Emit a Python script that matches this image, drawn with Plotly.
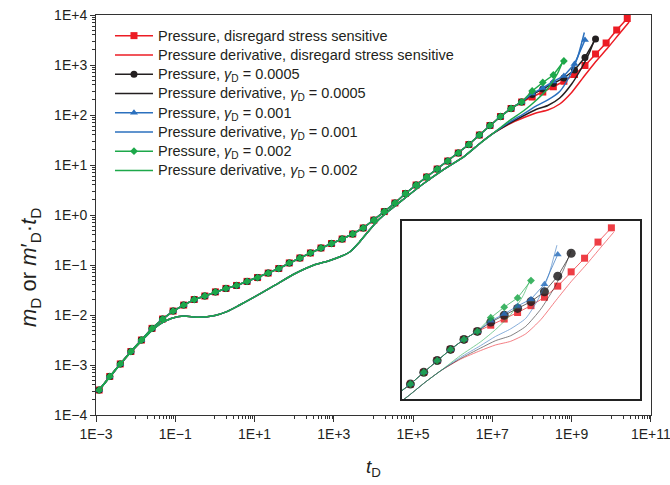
import plotly.graph_objects as go

# ---------------- data ----------------
# dimensionless time at the pressure markers
t_p = [1.20e-3, 2.22e-3, 4.10e-3, 7.58e-3, 1.40e-2, 2.59e-2, 4.78e-2, 8.82e-2,
       0.163, 0.301, 0.556, 1.03, 1.90, 3.50, 6.47, 11.9, 22.1, 40.8, 75.3,
       139, 257, 474, 876, 1.62e3, 2.99e3, 5.52e3, 1.02e4, 1.88e4, 3.48e4,
       6.42e4, 1.19e5, 2.19e5, 4.04e5, 7.47e5, 1.38e6, 2.55e6, 4.70e6, 8.69e6,
       1.60e7, 2.96e7, 5.47e7, 1.01e8, 1.87e8, 3.45e8, 6.37e8, 1.18e9, 2.17e9,
       4.01e9, 7.41e9, 1.37e10, 2.53e10]

# pressure common to every case (first 41 markers)
p_common = [3.16e-4, 5.9e-4, 1.05e-3, 1.86e-3, 3.16e-3, 5.4e-3, 8.3e-3, 1.2e-2,
            1.58e-2, 2.04e-2, 2.4e-2, 2.9e-2, 3.4e-2, 3.9e-2, 4.7e-2, 5.6e-2,
            6.9e-2, 8.5e-2, 0.11, 0.138, 0.174, 0.219, 0.269, 0.331, 0.417,
            0.55, 0.79, 1.17, 1.74, 2.69, 3.98, 5.75, 8.3, 12.0, 17.4, 25.7,
            39.8, 61.7, 93.3, 135, 182]
p_tail_red = [229, 288, 367, 473, 646, 977, 1660, 2754, 5012, 8511]
p_tail_black = [257, 331, 427, 550, 794, 1413, 3311]
p_tail_blue = [269, 347, 468, 603, 1047, 3162]
p_tail_green = [302, 447, 631, 1202]

# pressure derivative common to every case
t_d_common = [1.2e-3, 2.24e-3, 4.1e-3, 7.6e-3, 1.38e-2, 2.5e-2, 4.5e-2, 7.9e-2,
              0.16, 0.4, 1.0, 2.0, 4.0, 10, 32, 100, 316, 794, 1585, 2512,
              4467, 7943, 1.41e4, 2.51e4, 5.6e4, 1.78e5, 5.6e5, 2.0e6, 5.0e6,
              1.0e7]
d_common = [3.16e-4, 5.9e-4, 1.05e-3, 1.82e-3, 3.0e-3, 4.8e-3, 6.9e-3, 8.5e-3,
            9.5e-3, 9.0e-3, 9.8e-3, 1.17e-2, 1.55e-2, 2.3e-2, 3.9e-2, 6.6e-2,
            0.1, 0.123, 0.151, 0.182, 0.29, 0.5, 0.83, 1.23, 2.04, 4.17, 7.9,
            15.1, 27.5, 41.7]
t_d_tail_red = [2.51e7, 6.3e7, 1.26e8, 2.51e8, 5.0e8, 1e9, 2.0e9, 3.98e9, 7.9e9,
                1.58e10, 2.82e10]
d_tail_red = [64.6, 89.1, 110, 126, 166, 282, 575, 1148, 2138, 4169, 7244]
t_d_tail_black = [2.51e7, 6.3e7, 1.26e8, 2.51e8, 5.0e8, 1e9, 1.78e9, 2.82e9, 3.98e9]
d_tail_black = [66.1, 97.7, 129, 155, 219, 417, 871, 1778, 3631]
t_d_tail_blue = [2.51e7, 6.3e7, 1.26e8, 2.51e8, 5.0e8, 8.9e8, 1.41e9, 2.09e9]
d_tail_blue = [69.2, 107, 151, 200, 295, 603, 1413, 4467]
t_d_tail_green = [2.51e7, 6.3e7, 1.26e8, 2.51e8, 4.47e8, 6.0e8]
d_tail_green = [74.1, 123, 195, 339, 692, 1202]

x_tick_vals = [1e-3, 1e-1, 1e1, 1e3, 1e5, 1e7, 1e9, 1e11]
x_tick_text = ["1E\u22123", "1E\u22121", "1E+1", "1E+3", "1E+5", "1E+7", "1E+9", "1E+11"]
y_tick_vals = [1e-4, 1e-3, 1e-2, 1e-1, 1e0, 1e1, 1e2, 1e3, 1e4]
y_tick_text = ["1E\u22124", "1E\u22123", "1E\u22122", "1E\u22121", "1E+0", "1E+1",
               "1E+2", "1E+3", "1E+4"]

# ---------------- styling ----------------
RED = "#EC1C24"
BLACK = "#231F20"
BLUE = "#2B70BE"
GREEN = "#1DA84A"
FONT = "Liberation Sans, Arial, sans-serif"
g = "<i>\u03b3</i><sub>D</sub>"


def lg(txt):
    return '<span style="font-size:14.5px">' + txt + '</span>'


series = [
    # name, color, symbol, msize, t, y, is_pressure, inset msize
    ("Pressure, disregard stress sensitive", RED, "square", 7,
     t_p[:len(p_common) + len(p_tail_red)], p_common + p_tail_red, True, 7),
    ("Pressure derivative, disregard stress sensitive", RED, None, 0,
     t_d_common + t_d_tail_red, d_common + d_tail_red, False, 0),
    ("Pressure, " + g + " = 0.0005", BLACK, "circle", 7,
     t_p[:len(p_common) + len(p_tail_black)], p_common + p_tail_black, True, 9),
    ("Pressure derivative, " + g + " = 0.0005", BLACK, None, 0,
     t_d_common + t_d_tail_black, d_common + d_tail_black, False, 0),
    ("Pressure, " + g + " = 0.001", BLUE, "triangle-up", 7,
     t_p[:len(p_common) + len(p_tail_blue)], p_common + p_tail_blue, True, 7),
    ("Pressure derivative, " + g + " = 0.001", BLUE, None, 0,
     t_d_common + t_d_tail_blue, d_common + d_tail_blue, False, 0),
    ("Pressure, " + g + " = 0.002", GREEN, "diamond", 6,
     t_p[:len(p_common) + len(p_tail_green)], p_common + p_tail_green, True, 6),
    ("Pressure derivative, " + g + " = 0.002", GREEN, None, 0,
     t_d_common + t_d_tail_green, d_common + d_tail_green, False, 0),
]

fig = go.Figure()
for name, col, sym, ms, tx, yy, isp, ims in series:
    if isp:
        fig.add_trace(go.Scatter(
            x=tx, y=yy, name=lg(name), mode="lines+markers",
            line=dict(color=col, width=1.5),
            marker=dict(symbol=sym, size=ms, color=col, line=dict(width=0)),
            xaxis="x", yaxis="y"))
    else:
        fig.add_trace(go.Scatter(
            x=tx, y=yy, name=lg(name), mode="lines",
            line=dict(color=col, width=1.5, shape="spline", smoothing=0.6),
            xaxis="x", yaxis="y"))

# inset copies
for name, col, sym, ms, tx, yy, isp, ims in series:
    if isp:
        fig.add_trace(go.Scatter(
            x=tx, y=yy, mode="lines+markers", showlegend=False, hoverinfo="skip",
            line=dict(color=col, width=0.8), opacity=0.85,
            marker=dict(symbol=sym, size=ims, color=col, line=dict(width=0)),
            xaxis="x2", yaxis="y2"))
    else:
        fig.add_trace(go.Scatter(
            x=tx, y=yy, mode="lines", showlegend=False, hoverinfo="skip",
            line=dict(color=col, width=0.8, shape="spline", smoothing=0.6),
            opacity=0.7, xaxis="x2", yaxis="y2"))

x_minor = [k * 10.0 ** m for m in range(-2, 11, 2) for k in range(1, 10)]
y_minor = [k * 10.0 ** m for m in range(-4, 4) for k in range(2, 10)]
AX = "#333333"

fig.update_layout(
    width=670, height=485,
    margin=dict(l=96, r=19, t=15, b=70),
    paper_bgcolor="white", plot_bgcolor="white",
    font=dict(family=FONT, size=14, color=BLACK),
    showlegend=True,
    legend=dict(x=0.0252, y=0.985, xanchor="left", yanchor="top",
                bgcolor="rgba(0,0,0,0)", borderwidth=0,
                font=dict(family=FONT, size=12.5, color=BLACK),
                tracegroupgap=0, itemwidth=38),
    xaxis=dict(type="log", range=[-3, 11.002], domain=[0, 1],
               tickvals=x_tick_vals, ticktext=x_tick_text,
               ticklabeloverflow="allow", automargin=False,
               ticks="outside", ticklen=6, tickwidth=1, tickcolor=AX,
               showline=True, linecolor=AX, linewidth=1, mirror=True,
               showgrid=False, zeroline=False,
               tickfont=dict(family=FONT, size=14, color=BLACK),
               minor=dict(tickvals=x_minor, ticks="outside", ticklen=3,
                          tickcolor=AX, tickwidth=1, showgrid=False),
               title=dict(text="<i>t</i><sub>D</sub>", standoff=18,
                          font=dict(family=FONT, size=19, color=BLACK))),
    yaxis=dict(type="log", range=[-4, 4], domain=[0, 1],
               tickvals=y_tick_vals, ticktext=y_tick_text,
               ticks="outside", ticklen=5, tickwidth=1, tickcolor=AX,
               showline=True, linecolor=AX, linewidth=1, mirror=True,
               showgrid=False, zeroline=False, automargin=False,
               tickfont=dict(family=FONT, size=14, color=BLACK),
               minor=dict(tickvals=y_minor, ticks="outside", ticklen=3,
                          tickcolor=AX, tickwidth=1, showgrid=False)),
    xaxis2=dict(type="log", range=[6.24, 10.97], domain=[0.5514, 0.980],
                anchor="y2", showticklabels=False, ticks="",
                showline=True, linecolor="#222222", linewidth=1.5, mirror=True,
                showgrid=False, zeroline=False),
    yaxis2=dict(type="log", range=[1.17, 4.04], domain=[0.04, 0.485],
                anchor="x2", showticklabels=False, ticks="",
                showline=True, linecolor="#222222", linewidth=1.5, mirror=True,
                showgrid=False, zeroline=False),
    annotations=[dict(
        text="<i>m</i><sub>D</sub> or <i>m</i>\u2032<sub>D</sub>\u00b7<i>t</i><sub>D</sub>",
        xref="paper", yref="paper", x=-0.119, y=0.37, xanchor="center",
        yanchor="middle", textangle=-90, showarrow=False,
        font=dict(family=FONT, size=22, color=BLACK))],
)

fig.write_html("out.html")
